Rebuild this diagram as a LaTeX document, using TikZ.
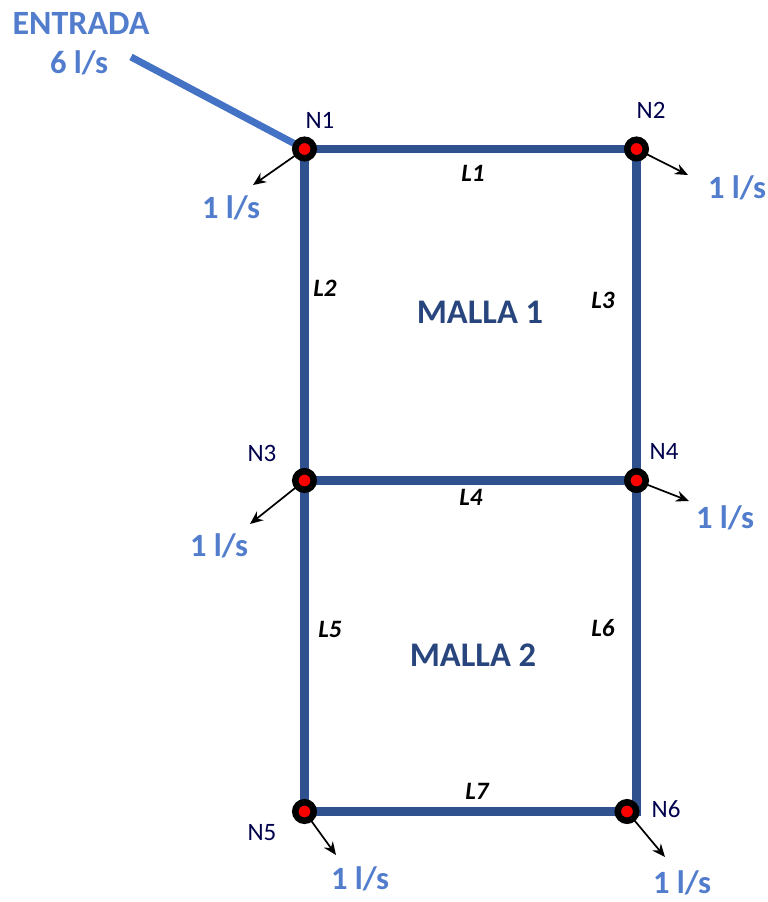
\documentclass[tikz,border=0pt]{standalone}
\usepackage{fontspec}
\setmainfont{Carlito}
\usetikzlibrary{arrows.meta}
\definecolor{pipe}{RGB}{47,82,143}
\definecolor{inflow}{RGB}{68,114,196}
\definecolor{flowtxt}{RGB}{82,125,205}
\definecolor{meshtxt}{RGB}{40,70,125}
\tikzset{
  x=1pt,y=-1pt,
  junction/.style={circle,draw=black,line width=6.5pt,fill=red,minimum size=18.5pt,inner sep=0pt},
  pipeline/.style={draw=pipe,line width=8.5pt},
  feed/.style={draw=inflow,line width=7pt},
  demand/.style={draw=black,line width=1.7pt,-{Stealth[length=13pt,width=11pt]}},
  flowlabel/.style={text=flowtxt,font=\bfseries\fontsize{32.5}{36}\selectfont,inner sep=0pt},
  nodelabel/.style={text=black!70!blue,font=\fontsize{25}{28}\selectfont,inner sep=0pt},
  linklabel/.style={text=black,font=\bfseries\itshape\fontsize{25}{28}\selectfont,inner sep=0pt},
  meshlabel/.style={text=meshtxt,font=\bfseries\fontsize{34.5}{38}\selectfont,inner sep=0pt}
}
\begin{document}
\begin{tikzpicture}
\useasboundingbox (0,0) rectangle (768,902);
\coordinate (n1) at (304.5,149);
\coordinate (n2) at (636.5,149);
\coordinate (n3) at (304.5,480.5);
\coordinate (n4) at (636.5,480.5);
\coordinate (n5) at (304.5,811.5);
\coordinate (n6) at (627,811.5);
\coordinate (bend) at (636.5,811.5);
\coordinate (in) at (131,57);
\coordinate (o1) at (253,185);
\coordinate (o2) at (688,175);
\coordinate (o3) at (250,524);
\coordinate (o4) at (689,501);
\coordinate (o5) at (336,855);
\coordinate (o6) at (665,857);
\draw[feed] (in) -- (n1);
\draw[pipeline] (n1) -- (n2);
\draw[pipeline] (n3) -- (n4);
\draw[pipeline] (n5) -- (n6);
\draw[pipeline] (n1) -- (n3);
\draw[pipeline] (n3) -- (n5);
\draw[pipeline] (n2) -- (n4);
\draw[pipeline] (n4) -- (bend) -- (n6);
\foreach \a/\b in {n1/o1,n2/o2,n3/o3,n4/o4,n5/o5,n6/o6} \draw[demand] (\a) -- (\b);
\node[junction] (N1) at (n1) {};
\node[junction] (N2) at (n2) {};
\node[junction] (N3) at (n3) {};
\node[junction] (N4) at (n4) {};
\node[junction] (N5) at (n5) {};
\node[junction] (N6) at (n6) {};
\node[nodelabel] (tn1) at (320,120) {N1};
\node[nodelabel] (tn2) at (651,110) {N2};
\node[nodelabel] (tn3) at (262,453) {N3};
\node[nodelabel] (tn4) at (664,451) {N4};
\node[nodelabel] (tn5) at (262,833) {N5};
\node[nodelabel] (tn6) at (666,809) {N6};
\node[flowlabel,font=\bfseries\fontsize{34}{38}\selectfont] (ent) at (81,23) {ENTRADA};
\node[flowlabel] (six) at (79,63) {6 l/s};
\node[flowlabel] (f1) at (231,208) {1 l/s};
\node[flowlabel] (f2) at (737,188) {1 l/s};
\node[flowlabel] (f3) at (219,546) {1 l/s};
\node[flowlabel] (f4) at (725,518) {1 l/s};
\node[flowlabel] (f5) at (360,879) {1 l/s};
\node[flowlabel] (f6) at (682,883) {1 l/s};
\node[linklabel] (l1) at (473,173) {L1};
\node[linklabel] (l2) at (325,288) {L2};
\node[linklabel] (l3) at (603,300) {L3};
\node[linklabel] (l4) at (471,497) {L4};
\node[linklabel] (l5) at (330,629) {L5};
\node[linklabel] (l6) at (603,628) {L6};
\node[linklabel] (l7) at (477,791) {L7};
\node[meshlabel] (m1) at (480,312) {MALLA 1};
\node[meshlabel] (m2) at (473,655) {MALLA 2};
\end{tikzpicture}
\end{document}
